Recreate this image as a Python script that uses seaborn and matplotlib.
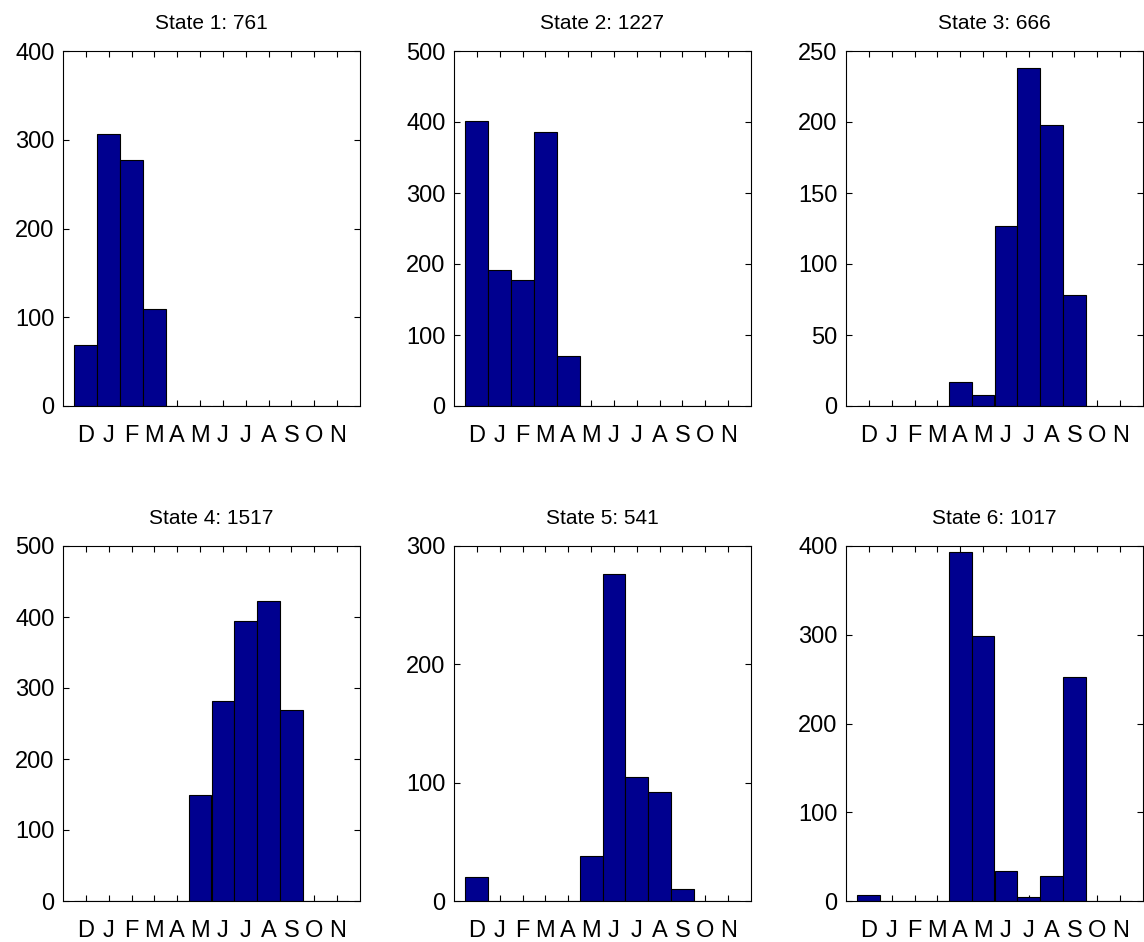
import pandas as pd
import seaborn as sns
import matplotlib.pyplot as plt

sns.set_theme(style="ticks")
plt.rcParams['font.family'] = ['Liberation Sans', 'DejaVu Sans']
plt.rcParams['xtick.direction'] = 'in'
plt.rcParams['ytick.direction'] = 'in'
plt.rcParams['xtick.top'] = True
plt.rcParams['ytick.right'] = True
plt.rcParams['text.color'] = 'black'
plt.rcParams['xtick.labelcolor'] = 'black'
plt.rcParams['ytick.labelcolor'] = 'black'

# month labels, December first
months = ['D', 'J', 'F', 'M', 'A', 'M', 'J', 'J', 'A', 'S', 'O', 'N']

# counts per month for each state
state1 = [69, 306, 277, 109, 0, 0, 0, 0, 0, 0, 0, 0]
state2 = [401, 192, 177, 386, 71, 0, 0, 0, 0, 0, 0, 0]
state3 = [0, 0, 0, 0, 17, 8, 127, 238, 198, 78, 0, 0]
state4 = [0, 0, 0, 0, 0, 150, 281, 395, 422, 269, 0, 0]
state5 = [20, 0, 0, 0, 0, 38, 276, 105, 92, 10, 0, 0]
state6 = [7, 0, 0, 0, 393, 299, 34, 4, 28, 252, 0, 0]

states = [state1, state2, state3, state4, state5, state6]
totals = [761, 1227, 666, 1517, 541, 1017]
ymax = [400, 500, 250, 500, 300, 400]
ystep = [100, 100, 50, 100, 100, 100]

fig = plt.figure(figsize=(11.44, 9.42), dpi=100)

lefts = [63, 454, 846]
bottoms = [406, 901]
w, h = 297, 355

for i, counts in enumerate(states):
    row, col = divmod(i, 3)
    ax = fig.add_axes([lefts[col] / 1144, 1 - bottoms[row] / 942, w / 1144, h / 942])
    df = pd.DataFrame({'pos': list(range(12)), 'count': counts})
    sns.barplot(data=df, x='pos', y='count', order=list(range(12)), ax=ax,
                color='#00008F', saturation=1, width=1.0,
                edgecolor='black', linewidth=0.8)
    ax.set_xlim(-1, 12)
    ax.set_ylim(0, ymax[i])
    ax.set_yticks(range(0, ymax[i] + 1, ystep[i]))
    ax.set_xticks(range(12))
    ax.set_xticklabels(months)
    ax.set_xlabel('')
    ax.set_ylabel('')
    ax.set_title(f'State {i + 1}: {totals[i]}', fontsize=15, pad=16, color='black')
    ax.tick_params(labelsize=17, length=4, width=0.8, color='black')
    ax.tick_params(axis='x', pad=14)
    ax.tick_params(axis='y', pad=6)
    for s in ax.spines.values():
        s.set_visible(True)
        s.set_color('black')
        s.set_linewidth(0.8)

fig.savefig('out.png', dpi=100)
